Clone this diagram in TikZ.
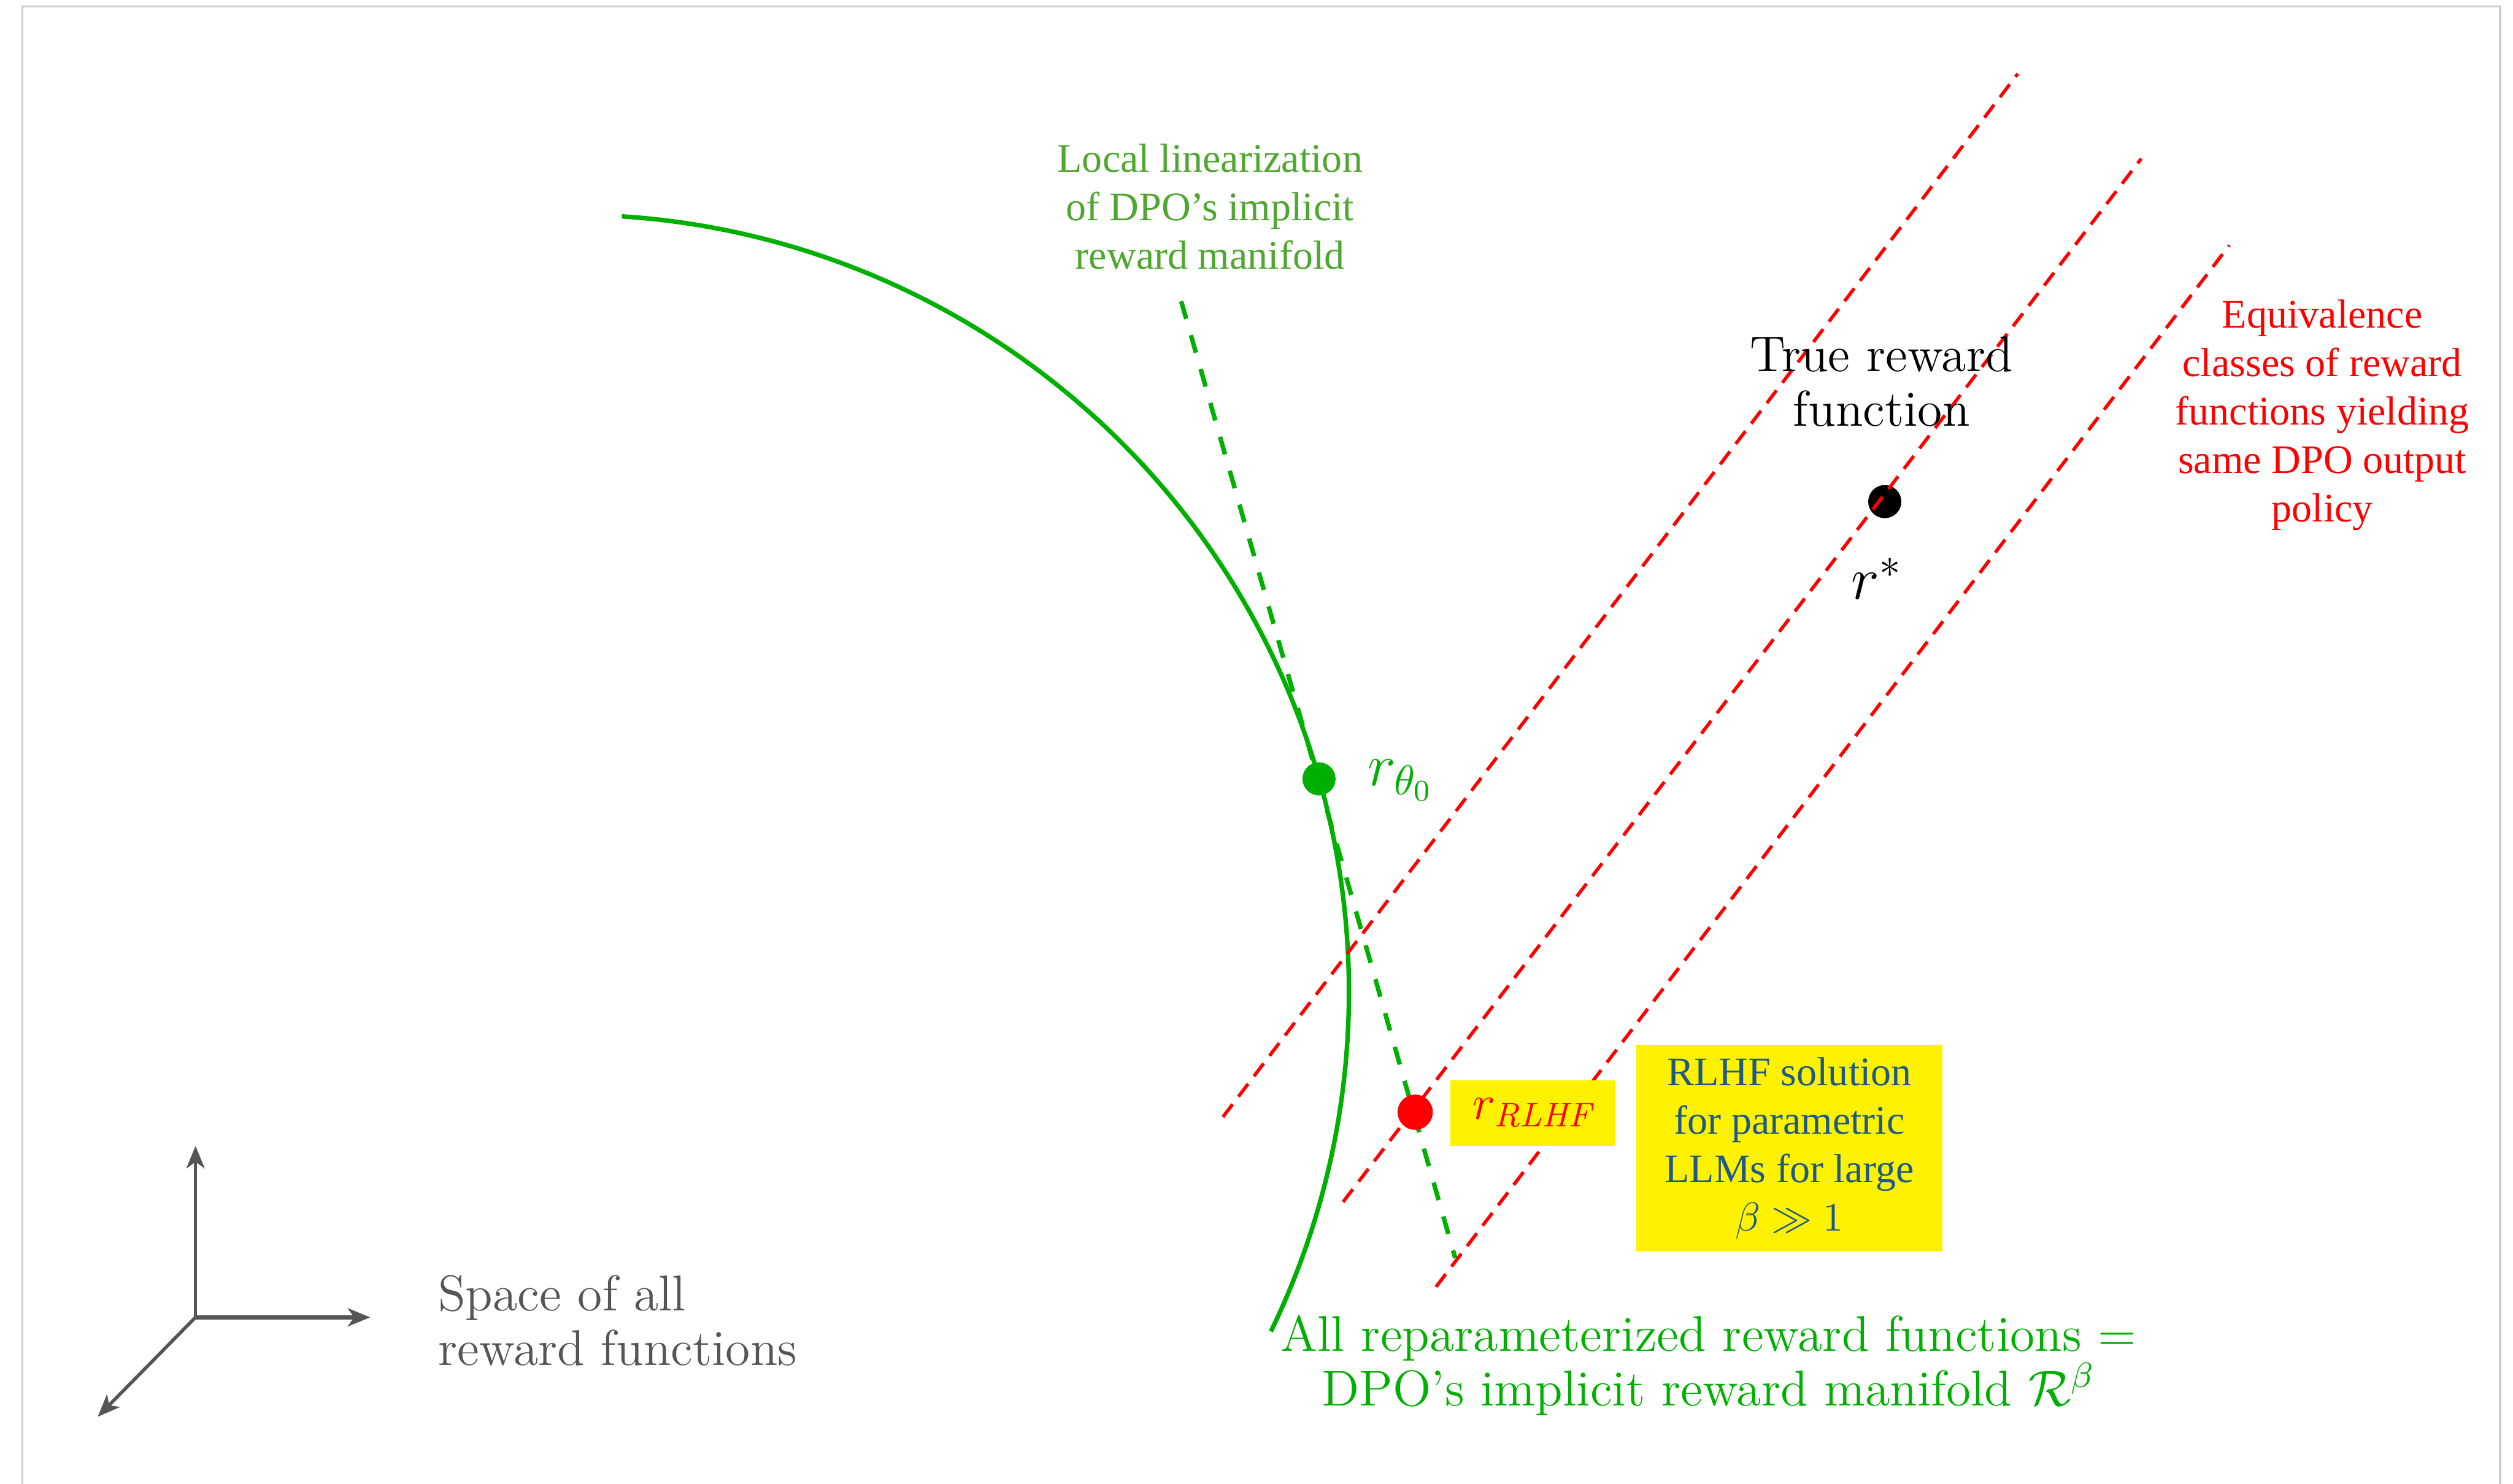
\RequirePackage{fix-cm}
\documentclass[tikz,border=0pt]{standalone}
\usepackage{fontspec}
\usepackage{amsmath}
\usetikzlibrary{arrows.meta}
\newfontfamily\timesfont{Liberation Serif}
\definecolor{framegray}{RGB}{204,204,204}
\definecolor{axisgray}{RGB}{85,85,85}
\definecolor{manifoldgreen}{RGB}{0,176,0}
\definecolor{lingreen}{RGB}{78,167,46}
\definecolor{rlhfblue}{RGB}{30,90,135}

\begin{document}
\begin{tikzpicture}[x=0.15mm, y=-0.15mm,
    lmtext/.style={font=\fontsize{13.4}{14.6}\selectfont, inner sep=0pt},
    mathlabel/.style={font=\fontsize{16}{18}\selectfont, inner sep=0pt},
    tmtext/.style={font=\timesfont\fontsize{10.8}{12.9}\selectfont, align=center, inner sep=0pt},
    dot/.style={circle, minimum size=3.1mm, inner sep=0pt},
    axis/.style={axisgray, line width=0.9pt, -{Stealth[length=2.1mm, width=1.7mm, inset=0.6mm]}},
    manifold/.style={manifoldgreen, line width=1.2pt},
    tangent/.style={manifoldgreen, line width=1.2pt, dash pattern=on 1.7mm off 1.6mm},
    equiv/.style={red, line width=0.9pt, dash pattern=on 1.5mm off 0.9mm}]
    \useasboundingbox (0,0) rectangle (1568,926);
    % Frame
    \draw[framegray, line width=0.6pt] (14,926) -- (14,4) -- (1560,4) -- (1560,926);

    % Axes
    \coordinate (origin) at (122,822);
    \coordinate (upTip) at (122,715);
    \coordinate (rightTip) at (231,822);
    \coordinate (diagTip) at (61,884);
    \draw[axis] (origin) -- (upTip);
    \draw[axis, line width=1.1pt] (origin) -- (rightTip);
    \draw[axis] (origin) -- (diagTip);
    \node[lmtext, text=axisgray, anchor=west, align=left] (spaceLabel) at (273,824)
        {Space of all\\reward functions};

    % Manifold and its linearization
    \draw[manifold] (388,135) arc[start angle=-86.3, end angle=25.9, radius=485];
    \coordinate (linTop) at (737,188);
    \coordinate (linBot) at (908,785);
    \draw[tangent] (linTop) -- (linBot);

    % True reward
    \node[dot, fill=black] (rstar) at (1176,313) {};

    % Equivalence classes
    \coordinate (eqAbot) at (763,697);
    \coordinate (eqAtop) at (1259,46);
    \coordinate (eqBbot) at (838,750);
    \coordinate (eqBtop) at (1336,99);
    \coordinate (eqCbot) at (896,803);
    \coordinate (eqCtop) at (1391,153);
    \draw[equiv] (eqAbot) -- (eqAtop);
    \draw[equiv] (eqBbot) -- (eqBtop);
    \draw[equiv] (eqCbot) -- (eqCtop);

    \node[dot, fill=red, minimum size=3.3mm] (rrlhf) at (883,694) {};
    \node[dot, fill=manifoldgreen] (rtheta) at (823,486) {};

    % Labels
    \node[lmtext, align=center] (trueLabel) at (1174,238) {True reward\\function};
    \node[mathlabel] (rstarLabel) at (1171,361) {$r^*$};
    \node[mathlabel, text=manifoldgreen] (thetaLabel) at (874,487) {$r_{\theta_0}$};
    \node[lmtext, text=manifoldgreen, align=center] (manifoldLabel) at (1066,852)
        {All reparameterized reward functions =\\DPO’s implicit reward manifold $\mathcal{R}^\beta$};
    \node[tmtext, text=lingreen] (linLabel) at (755,129)
        {Local linearization\\of DPO’s implicit\\reward manifold};
    \node[tmtext, text=red] (equivLabel) at (1449,259)
        {Equivalence\\classes of reward\\functions yielding\\same DPO output\\policy};
    \node[mathlabel, font=\fontsize{13}{15}\selectfont, fill=yellow, text=red,
        minimum width=15.45mm, minimum height=6.15mm] (rlhfLabel)
        at (956.5,694.5) {$r_{\mathit{RLHF}}$};
    \node[tmtext, fill=yellow, text=rlhfblue, minimum width=28.65mm, minimum height=19.35mm] (rlhfBox)
        at (1116.5,716.5) {RLHF solution\\for parametric\\LLMs for large\\$\beta \gg 1$};
\end{tikzpicture}
\end{document}
